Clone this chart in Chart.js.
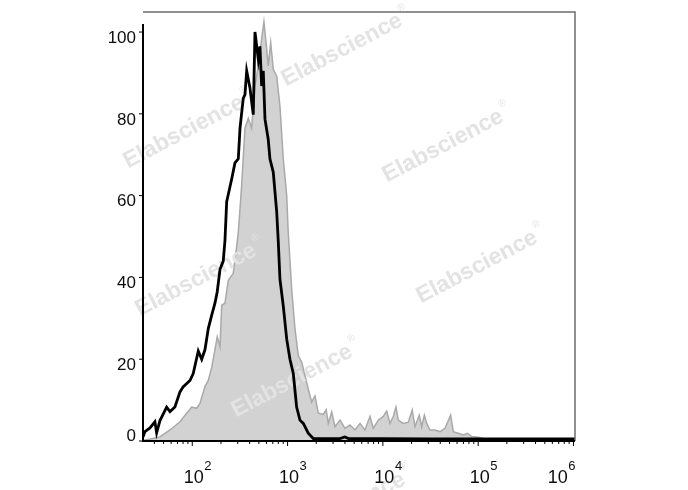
<!DOCTYPE html>
<html>
<head>
<meta charset="utf-8">
<script src="https://cdn.jsdelivr.net/npm/chart.js@4"></script>
<style>
  html, body { margin: 0; padding: 0; background: #fff; }
  canvas { display: block; }
</style>
</head>
<body>
<canvas id="histo" width="688" height="490"></canvas>
<script>
// --- data: x in log10 units of fluorescence intensity, y in % of max ---
const blackLogX = [1.483, 1.503, 1.556, 1.608, 1.626, 1.661, 1.731, 1.766, 1.818, 1.871, 1.906, 1.976,
  2.010, 2.063, 2.099, 2.133, 2.168, 2.204, 2.238, 2.262, 2.291, 2.325, 2.343, 2.361, 2.413, 2.448,
  2.483, 2.501, 2.535, 2.553, 2.571, 2.605, 2.623, 2.640, 2.658, 2.693, 2.710, 2.728, 2.745, 2.763,
  2.797, 2.815, 2.850, 2.886, 2.902, 2.920, 2.955, 2.991, 3.025, 3.060, 3.095, 3.130, 3.165, 3.217,
  3.270, 3.400, 3.550, 3.600, 3.640, 3.700, 3.800, 4.000, 4.500, 5.000, 6.016];
const blackY = [1, 2.3, 3.2, 4.7, 2, 5, 8.3, 7.2, 8.3, 12, 13.3, 14.8,
  16.5, 22, 20, 22.3, 27.5, 30.8, 33.7, 36.5, 42, 44, 49, 58.5, 64, 68,
  69, 76.5, 83.8, 84.7, 90.5, 86.4, 83, 79.8, 100, 93.3, 96.5, 86.8, 90.5, 78.7,
  73.8, 69, 65.7, 56, 49, 39.6, 33, 24.9, 20, 16.5, 8.3, 5.1, 4.3, 1.9,
  0.6, 0.6, 0.6, 1.0, 0.6, 0.6, 0.6, 0.6, 0.5, 0.5, 0.5];

const grayLogX = [1.483, 1.560, 1.661, 1.766, 1.871, 1.941, 1.994, 2.046, 2.081, 2.133, 2.168, 2.204,
  2.238, 2.262, 2.291, 2.309, 2.343, 2.378, 2.430, 2.466, 2.483, 2.518, 2.553, 2.588, 2.623, 2.658,
  2.693, 2.728, 2.752, 2.781, 2.797, 2.823, 2.850, 2.886, 2.920, 2.955, 2.991, 3.007, 3.043, 3.078,
  3.112, 3.148, 3.183, 3.217, 3.253, 3.288, 3.322, 3.375, 3.405, 3.427, 3.463, 3.497, 3.550, 3.602,
  3.655, 3.707, 3.760, 3.812, 3.865, 3.899, 3.952, 4.004, 4.040, 4.075, 4.109, 4.137, 4.162, 4.214,
  4.267, 4.308, 4.337, 4.382, 4.407, 4.435, 4.460, 4.494, 4.547, 4.599, 4.652, 4.711, 4.739, 4.791,
  4.844, 4.886, 4.932, 5.001, 5.089, 5.229, 6.016];
const grayY = [0.2, 0.5, 1, 2.7, 4.7, 6.8, 8.3, 8, 9.2, 13.3, 14.8, 18,
  22.3, 25.5, 23, 33.2, 33.7, 39.3, 41, 47.6, 51, 62.4, 76.5, 78.9, 76.5, 86.8,
  91.7, 98.3, 102.5, 95.8, 91.7, 97.4, 90.9, 89.2, 81.9, 69, 60, 51, 37.2, 27.4,
  20.9, 19.3, 16, 12.7, 9.5, 11, 6.8, 6.5, 7.6, 4.3, 7.1, 3.5, 5.1, 3.1,
  3.9, 2.7, 4.3, 2.7, 6, 3.1, 5.1, 6, 7.3, 4.3, 6, 8.3, 5.1, 4.3,
  4.6, 7.6, 3.5, 6.3, 3.5, 6.3, 4.3, 2.7, 2.7, 2.3, 3.1, 6.3, 2.3, 1.9,
  1.5, 1.9, 1.1, 0.9, 0.4, 0.2, 0.1];

const yTickValues = [0, 20, 40, 60, 80, 100];
const xDecades = [2, 3, 4, 5, 6];
const watermarkText = 'Elabscience';

// --- helpers ---
function toPoints(xs, ys) {
  return xs.map((x, i) => ({ x: x, y: ys[i] }));
}

// watermark centres (layout only)
const watermarkSpots = [[342, 50], [184, 132], [443, 146], [196, 280], [477, 267], [292, 381], [345, 509]];

const watermarkPlugin = {
  id: 'watermark',
  afterDatasetDraw(chart, args) {
    if (args.index !== 1) return; // between gray fill and black line
    const ctx = chart.ctx;
    ctx.save();
    ctx.fillStyle = '#e3e3e3';
    watermarkSpots.forEach(([cx, cy]) => {
      ctx.save();
      ctx.translate(cx, cy);
      ctx.rotate(-27.7 * Math.PI / 180);
      ctx.font = 'bold 23px "Liberation Sans", Arial, sans-serif';
      ctx.textAlign = 'center';
      ctx.textBaseline = 'middle';
      ctx.fillText(watermarkText, 0, 0);
      const w = ctx.measureText(watermarkText).width;
      ctx.font = '10px "Liberation Sans", Arial, sans-serif';
      ctx.textAlign = 'left';
      ctx.fillText('\u00ae', w / 2 + 2, -10);
      ctx.restore();
    });
    ctx.restore();
  }
};

const axesPlugin = {
  id: 'flowAxes',
  afterDraw(chart) {
    const ctx = chart.ctx;
    const area = chart.chartArea;
    const xs = chart.scales.x;
    const ys = chart.scales.y;
    ctx.save();

    // frame: top and right thin gray
    ctx.strokeStyle = '#6e6e6e';
    ctx.lineWidth = 1.5;
    ctx.beginPath();
    ctx.moveTo(area.left, area.top);
    ctx.lineTo(area.right, area.top);
    ctx.lineTo(area.right, area.bottom);
    ctx.stroke();

    // left and bottom axes black
    ctx.strokeStyle = '#000';
    ctx.lineWidth = 2;
    ctx.beginPath();
    ctx.moveTo(area.left, area.top + 12);
    ctx.lineTo(area.left, area.bottom);
    ctx.lineTo(area.right, area.bottom);
    ctx.stroke();

    // y ticks + labels
    ctx.lineWidth = 1;
    ctx.fillStyle = '#0d0d0d';
    ctx.font = '17px "Liberation Sans", Arial, sans-serif';
    ctx.textAlign = 'right';
    ctx.textBaseline = 'middle';
    yTickValues.forEach(v => {
      const py = ys.getPixelForValue(v);
      ctx.beginPath();
      ctx.moveTo(area.left - 4, py);
      ctx.lineTo(area.left, py);
      ctx.stroke();
      const ly = Math.min(py + 6, area.bottom - 4.5);
      ctx.fillText(String(v), area.left - 7, ly);
    });

    // x ticks: major at decades, minor at k*10^n
    for (let n = 1; n <= 6; n++) {
      for (let k = 1; k <= 9; k++) {
        const lv = n + Math.log10(k);
        if (lv < xs.min || lv > xs.max + 0.001) continue;
        const px = xs.getPixelForValue(lv);
        ctx.beginPath();
        ctx.moveTo(px, area.bottom);
        ctx.lineTo(px, area.bottom + (k === 1 ? 5 : 3));
        ctx.stroke();
      }
    }

    // x labels 10^n
    ctx.textBaseline = 'alphabetic';
    ctx.textAlign = 'left';
    xDecades.forEach(n => {
      const px = xs.getPixelForValue(n);
      ctx.font = '18px "Liberation Sans", Arial, sans-serif';
      const wBase = ctx.measureText('10').width;
      ctx.font = '13px "Liberation Sans", Arial, sans-serif';
      const wExp = ctx.measureText(String(n)).width;
      let left = px + 1.5 - wBase / 2;
      if (left + wBase + wExp > area.right) left = area.right - wBase - wExp;
      ctx.font = '18px "Liberation Sans", Arial, sans-serif';
      ctx.fillText('10', left, 483);
      ctx.font = '13px "Liberation Sans", Arial, sans-serif';
      ctx.fillText(String(n), left + wBase + 0.5, 470);
    });

    ctx.restore();
  }
};

const chart = new Chart(document.getElementById('histo').getContext('2d'), {
  type: 'line',
  data: {
    datasets: [
      {
        label: 'antibody',
        data: toPoints(blackLogX, blackY),
        borderColor: '#000',
        borderWidth: 2.8,
        fill: false,
        pointRadius: 0,
        tension: 0,
        order: 0
      },
      {
        label: 'isotype',
        data: toPoints(grayLogX, grayY),
        borderColor: '#a9a9a9',
        backgroundColor: '#d2d2d2',
        borderWidth: 1.5,
        fill: 'origin',
        pointRadius: 0,
        tension: 0,
        order: 1
      }
    ]
  },
  options: {
    responsive: false,
    devicePixelRatio: 1,
    animation: false,
    layout: { padding: { left: 143, right: 113, top: 12, bottom: 49 } },
    scales: {
      x: { type: 'linear', min: 1.483, max: 6.016, display: false },
      y: { type: 'linear', min: 0, max: 104.9, display: false }
    },
    plugins: {
      legend: { display: false },
      tooltip: { enabled: false }
    }
  },
  plugins: [watermarkPlugin, axesPlugin]
});
</script>
</body>
</html>
